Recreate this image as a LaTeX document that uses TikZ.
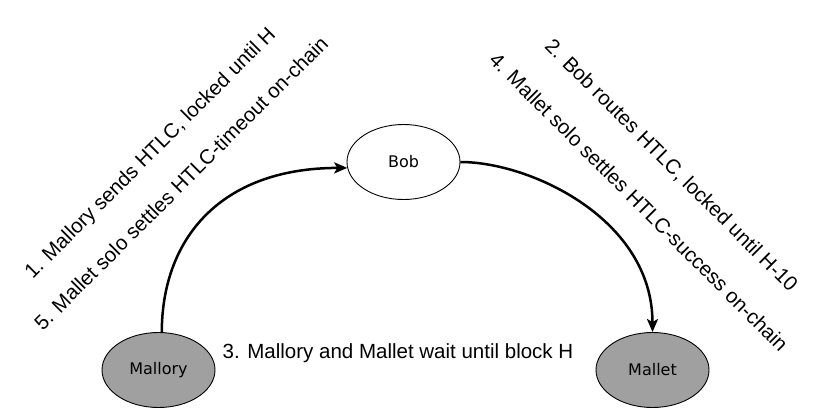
\documentclass[tikz,border=0pt]{standalone}
\usepackage{fontspec}
\setmainfont{Liberation Sans}
\newfontfamily\nodefont{DejaVu Sans}
\usetikzlibrary{arrows.meta,shapes.geometric}
\definecolor{nodegray}{RGB}{160,160,160}
\tikzset{
  party/.style={ellipse, draw=black, line width=0.9pt, minimum width=113pt, minimum height=75pt, inner sep=0pt, font=\nodefont\fontsize{16}{19}\selectfont},
  grayparty/.style={party, fill=nodegray},
  steplabel/.style={inner sep=0pt, font=\fontsize{20.5}{24}\selectfont},
  flow/.style={line width=2.5pt, -{Stealth[length=13pt,width=11pt,inset=3pt]}}
}
\begin{document}
\begin{tikzpicture}[x=1pt,y=-1pt]
\useasboundingbox (0,0) rectangle (830,410);
\node[party] (Bob) at (403.5,162) {Bob};
\node[grayparty] (Mallory) at (158.5,370) {Mallory};
\node[grayparty] (Mallet) at (652.5,370) {Mallet};
\node[steplabel, rotate=45] (s1) at (151,154) {1. Mallory sends HTLC, locked until H};
\node[steplabel, rotate=45] (s5) at (181,183) {5. Mallet solo settles HTLC-timeout on-chain};
\node[steplabel, rotate=-45] (s2) at (671,166) {2. Bob routes HTLC, locked until H-10};
\node[steplabel, rotate=-45] (s4) at (639,202) {4. Mallet solo settles HTLC-success on-chain};
\node[steplabel, anchor=base] (s3) at (398,358) {3. Mallory and Mallet wait until block H};
\draw[flow] (Mallory.85) .. controls +(0,-93) and +(-127,0) .. (Bob.186);
\draw[flow] (Bob.east) .. controls +(70,0) and +(0,-113) .. (Mallet.north);
\end{tikzpicture}
\end{document}
